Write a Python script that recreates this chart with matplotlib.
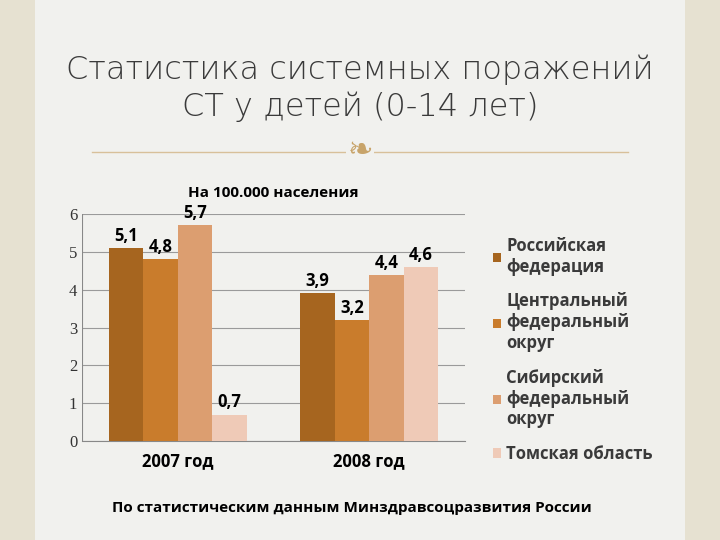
import matplotlib
matplotlib.use('Agg')
import matplotlib.pyplot as plt
from matplotlib.patches import Rectangle
import numpy as np

years = ['2007 год', '2008 год']
series = ['Российская\nфедерация', 'Центральный\nфедеральный\nокруг',
          'Сибирский\nфедеральный\nокруг', 'Томская область']
values = [[5.1, 3.9], [4.8, 3.2], [5.7, 4.4], [0.7, 4.6]]
labels = [['5,1', '3,9'], ['4,8', '3,2'], ['5,7', '4,4'], ['0,7', '4,6']]
colors = ['#a6651f', '#c97c2c', '#dc9e70', '#efcab7']

W, H = 720, 540
fig = plt.figure(figsize=(7.2, 5.4), dpi=100)
fig.patch.set_facecolor('#e6e1d1')
fig.patches.append(Rectangle((35 / W, 0), 650 / W, 1, transform=fig.transFigure,
                             facecolor='#f1f1ee', edgecolor='none', zorder=-5))

def px(x0, y0, x1, y1):
    return [x0 / W, 1 - y1 / H, (x1 - x0) / W, (y1 - y0) / H]

fig.text(0.5, 1 - 70 / H, 'Статистика системных поражений', ha='center', va='center',
         fontsize=23, color='#3a3a3a', family='DejaVu Sans', fontweight='light')
fig.text(0.5, 1 - 107 / H, 'СТ у детей (0-14 лет)', ha='center', va='center',
         fontsize=23, color='#3a3a3a', family='DejaVu Sans', fontweight='light')
fig.lines.append(plt.Line2D([92 / W, 628 / W], [1 - 152 / H] * 2, transform=fig.transFigure,
                            color='#d8c09a', lw=1))
fig.text(360 / W, 1 - 150 / H, '❧', ha='center', va='center', fontsize=22,
         color='#c8a46a', family='DejaVu Sans',
         bbox=dict(facecolor='#f1f1ee', edgecolor='none', pad=1))

ax = fig.add_axes(px(82, 214, 465, 441))
ax.set_zorder(5)
ax.set_facecolor('none')
x = np.arange(len(years))
bw = 0.18
for i, (vals, c) in enumerate(zip(values, colors)):
    pos = x + (i - 1.5) * bw
    ax.bar(pos, vals, bw, color=c, label=series[i], zorder=3)
    for p, v, t in zip(pos, vals, labels[i]):
        ax.text(p, v + 0.08, t, ha='center', va='bottom', fontsize=12,
                fontweight='bold', family='Open Sans', zorder=4)
ax.set_xlim(-0.5, 1.5)
ax.set_ylim(0, 6)
ax.set_yticks(range(7))
ax.yaxis.grid(True, color='#9a9a9a', lw=0.8, zorder=0)
ax.set_xticks(x)
ax.set_xticklabels(years, fontsize=12, fontweight='bold', family='Open Sans')
ax.tick_params(axis='y', length=0, labelsize=12, colors='#333333')
ax.tick_params(axis='x', length=0, pad=8)
for t in ax.get_yticklabels():
    t.set_family('Liberation Serif')
for s in ['top', 'right', 'left']:
    ax.spines[s].set_visible(False)
ax.spines['bottom'].set_color('#888888')
ax.axvline(-0.5, color='#888888', lw=0.8)
ax.set_title('На 100.000 населения', fontsize=11, fontweight='bold',
             family='Open Sans', pad=12)

leg = fig.legend(loc='upper left', bbox_to_anchor=(478 / W, 1 - 222 / H), frameon=False,
                 prop={'family': 'Open Sans', 'weight': 'bold', 'size': 12},
                 handlelength=0.5, handleheight=0.5, handletextpad=0.3,
                 labelspacing=1.0, labelcolor='#3a3a3a')

fig.text(352 / W, 1 - 508 / H, 'По статистическим данным Минздравсоцразвития России',
         ha='center', va='center', fontsize=11, fontweight='bold', family='Open Sans')

fig.savefig('out.png', dpi=100, facecolor=fig.get_facecolor())
